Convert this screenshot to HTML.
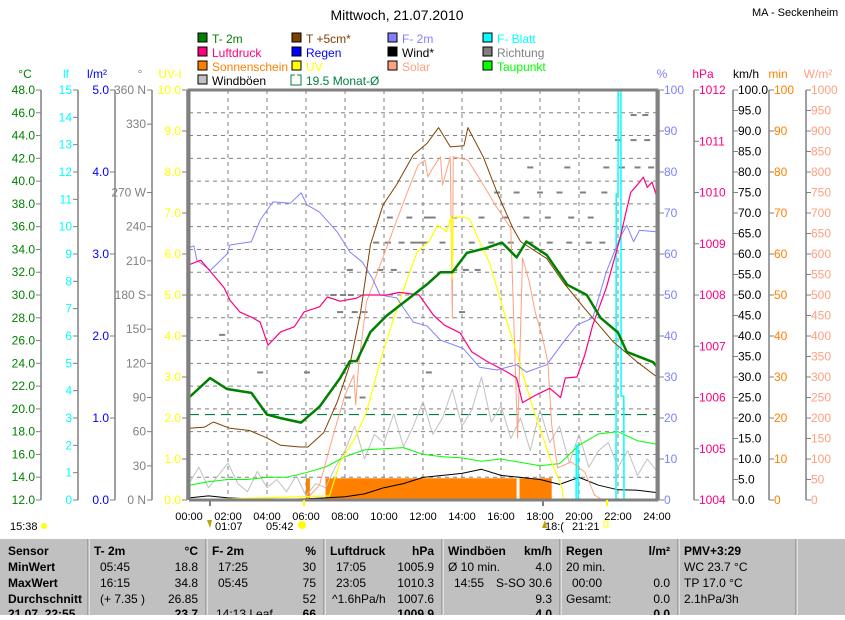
<!DOCTYPE html>
<html><head><meta charset="utf-8"><style>
body{margin:0;background:#fff;width:845px;height:615px;overflow:hidden;font-family:"Liberation Sans",sans-serif}
svg text{font-family:"Liberation Sans",sans-serif}
</style></head><body>
<svg id="c" width="845" height="615" xmlns="http://www.w3.org/2000/svg"></svg>
<script>
// ---- data (hours 0-24) ----
const t2Hour=[0,1.08,1.95,3.2,4.0,4.67,5.75,6.7,7.75,8.25,8.6,9.3,10.15,11.5,12.25,12.9,13.5,14.25,15.2,16.05,16.8,17.3,18.35,19.4,20.4,21.1,22.0,22.45,23.8,24];
const t2Val=[21.0,22.7,21.75,21.4,19.5,19.2,18.8,20.2,22.7,24.2,24.2,26.75,28.2,30.0,31.0,32.0,32.0,33.7,34.1,34.6,33.3,34.7,33.5,30.9,30.0,28.0,26.7,25.0,24.1,23.7];
const t5Hour=[0,0.8,1.25,2.1,3.1,4.0,4.7,5.7,6.1,6.9,7.6,8.25,8.8,9.3,9.95,10.65,11.5,12.2,12.8,13.4,14.1,14.3,15.1,15.8,16.6,17.0,18.35,19.2,20.2,21.75,23.0,24];
const t5Val=[18.3,18.4,18.85,18.3,18.1,17.45,16.8,16.65,16.65,17.9,20.6,23.9,28.5,34.4,37.9,39.7,42.3,43.3,44.7,43.0,43.1,44.7,42.1,39.0,35.9,34.7,33.2,31.1,29.0,25.9,24.1,22.8];
const rhHour=[0,0.25,0.4,1.1,1.95,2.1,3.2,3.65,4.3,5.2,5.75,6.05,6.7,7.6,8.25,8.9,9.4,9.8,10.65,11.5,12.2,12.9,14.05,14.9,15.8,16.8,17.3,18.35,19.2,19.9,20.7,21.4,22.1,22.45,22.8,23.1,24];
const rhVal=[61.5,62,58.5,56,60,62.2,63,68.3,72.7,72.4,74.9,72,70.2,65.4,60.5,58,54.1,50,49.3,43.4,42.5,39,37,32.4,31.7,33,31.2,33,38.5,42.7,44.4,55.6,64,67,63,65.8,65.4];
const pHour=[0,0.6,1.25,1.8,2.1,2.6,3.3,3.65,4.05,4.7,5.4,5.9,6.7,7.1,7.75,8.6,8.9,10.15,10.8,11.8,12.55,13.1,13.9,14.5,15.3,16.3,16.8,17.1,17.8,18.5,19.05,19.3,19.9,20.3,20.7,21.4,22.1,22.4,22.65,23.1,23.3,23.5,23.75,24];
const pVal=[1008.59,1008.68,1008.39,1008.14,1007.9,1007.67,1007.55,1007.47,1007.02,1007.28,1007.38,1007.67,1007.77,1007.96,1007.88,1007.94,1008.0,1008.0,1008.05,1008.0,1007.6,1007.41,1007.26,1006.89,1006.7,1006.5,1006.38,1005.9,1006.05,1006.18,1006.0,1006.38,1006.4,1006.83,1007.41,1008.14,1009.1,1009.6,1010.0,1010.2,1010.3,1010.1,1010.2,1009.9];
const solHour=[0,6.0,6.7,7.4,8.0,8.45,8.55,8.7,9.1,9.8,10.5,11.2,11.75,12.1,12.25,12.5,12.9,13.0,13.4,13.5,13.55,14.3,15.0,15.7,16.5,16.85,17.1,17.45,17.75,18.1,18.4,18.6,18.9,19.6,20.3,20.8,21.2,24];
const solVal=[0,0,37,159,256,305,232,330,483,573,663,751,817,829,788,810,837,768,837,444,837,829,776,720,663,151,590,532,459,402,337,183,78,93,68,12,0,0];
const uvHour=[0,7.2,7.75,8.5,9.1,9.8,10.5,11.2,11.7,12.3,12.75,13.2,13.45,13.5,13.55,14.1,14.4,14.9,15.4,15.9,16.4,16.8,17.1,17.6,18.1,18.6,19.1,19.2,24];
const uvVal=[0,0.1,0.93,1.5,2.15,3.37,4.44,5.4,6.05,6.3,6.7,6.55,6.9,5.4,6.9,6.9,6.85,6.3,5.8,5.0,4.2,3.6,3.1,2.3,1.6,0.9,0.35,0,0];
const sunStart=[6.0,7.0,16.95];
const sunEnd=[6.2,16.8,18.6];
const sunMin=[5.3,5.3,5.3];
const gustVal=[4,8,3,6,9,4,2,7,3,5,2,6,1,4,3,8,12,18,10,16,14,21,13,18,24,16,20,27,18,22,30,19,23,15,20,12,22,14,18,9,16,8,12,14,8,12,6,10,7];
const windVal=[0.5,1,0.5,0.3,0.2,0.2,0.3,0.5,0.8,1.5,3,4,5.5,6,6.5,7.5,6,5.5,5,3.8,5.5,3.6,2.5,2.4,1.8];
const dewVal=[13.3,13.6,13.8,13.8,14.0,14.0,14.4,14.9,15.8,16.4,16.5,16.6,16.0,15.8,15.7,15.4,15.6,15.3,15.0,15.2,16.8,17.8,18.0,17.2,16.9];
const leafHour=[0,19.85,19.86,19.95,19.96,21.9,21.91,22.0,22.01,22.15,22.16,22.3,22.31,24];
const leafVal=[0,0,2.0,2.0,0,0,11.2,11.2,15,15,3.8,3.8,0,0];
const dirHour=[1.7,3.65,6.05,7.4,7.9,8.3,8.15,8.9,7.75,8.5,9.0,8.25,9.8,10.5,9.6,10.2,10.9,11.5,12.1,10.3,11.3,12.2,12.3,13.6,14.2,14.8,14.0,11.8,13.0,14.5,15.5,16.5,17.5,18.5,19.5,20.5,21.2,12.5,13.6,15.0,16.2,17.3,18.4,19.6,20.6,15.8,16.8,18.0,19.0,20.2,21.3,17.5,19.4,21.4,22.2,23.0,23.7,22.0,22.8,23.5,22.8,23.4];
const dirDeg=[145,112,112,180,180,180,90,90,165,165,165,202,202,202,226,226,226,226,226,248,248,248,112,202,202,202,165,226,226,226,226,226,226,226,226,226,226,248,248,248,248,248,248,248,248,270,270,270,270,270,270,292,292,292,292,292,292,316,316,316,338,338];
const monthAvg=[19.5];
const cTicks=[48,46,44,42,40,38,36,34,32,30,28,26,24,22,20,18,16,14,12];
const lfTicks=[15,14,13,12,11,10,9,8,7,6,5,4,3,2,1,0];
const rainTicks=[5,4,3,2,1,0];
const dirTicks=[360,330,270,240,210,180,150,120,90,60,30,0];
const dirNames={360:" N",270:" W",180:" S",0:" N"};
const uvTicks=[10,9,8,7,6,5,4,3,2,1,0];
const pctTicks=[100,90,80,70,60,50,40,30,20,10,0];
const hpaTicks=[1012,1011,1010,1009,1008,1007,1006,1005,1004];
const kmhTicks=[100,95,90,85,80,75,70,65,60,55,50,45,40,35,30,25,20,15,10,5,0];
const minTicks=[100,90,80,70,60,50,40,30,20,10,0];
const wTicks=[1000,950,900,850,800,750,700,650,600,550,500,450,400,350,300,250,200,150,100,50,0];
const hourTicks=["00:00","02:00","04:00","06:00","08:00","10:00","12:00","14:00","16:00","18:00","20:00","22:00","24:00"];

const svg=document.getElementById('c');
const NS="http://www.w3.org/2000/svg";
const X0=189,X1=657,YT=90,YB=500;
function X(h){return X0+h*(X1-X0)/24;}
function Y(v,mn,mx){return YB-(v-mn)/(mx-mn)*(YB-YT);}
function el(t,a,parent){const e=document.createElementNS(NS,t);for(const k in a)e.setAttribute(k,a[k]);(parent||svg).appendChild(e);return e;}
function txt(x,y,s,fill,size,anchor,weight){const e=el('text',{x:x,y:y,fill:fill,'font-size':size||12,'text-anchor':anchor||'start'});if(weight)e.setAttribute('font-weight',weight);e.textContent=s;return e;}

// title
let t=txt(397,20,"Mittwoch, 21.07.2010","#000",14,"middle");

t=txt(752,16,"MA - Seckenheim","#000",11);


// legend
const legend=[
 [198,42,"#008000","T- 2m"],[292,42,"#804000","T +5cm*"],[388,42,"#8080ff","F- 2m"],[483,42,"#00ffff","F- Blatt"],
 [198,56,"#ff0080","Luftdruck"],[292,56,"#0000ff","Regen"],[388,56,"#000000","Wind*"],[483,56,"#808080","Richtung"],
 [198,70,"#ff8000","Sonnenschein"],[292,70,"#ffff00","UV"],[388,70,"#ffa080","Solar"],[483,70,"#00ff00","Taupunkt"],
 [198,84,"#c0c0c0","Windböen"],[292,84,"none","19.5 Monat-Ø"]];
const legTxt={"Windböen":"#000","19.5 Monat-Ø":"#008040","Wind*":"#000","Richtung":"#808080","UV":"#ffff00"};
legend.forEach(l=>{
 const g=el('g',{});
 
 
 if(l[2]==="none"){el('path',{d:`M${l[0]+3},${l[1]-9}h-4v10h10v-10h-4`,fill:'none',stroke:'#008040','stroke-width':1},g);}
 else el('rect',{x:l[0],y:l[1]-9,width:9,height:9,fill:l[2],stroke:'#000','stroke-width':1},g);
 const tt=el('text',{x:l[0]+14,y:l[1]+1,fill:legTxt[l[3]]||l[2],'font-size':12},g);tt.textContent=l[3];
});

// grid
for(let i=1;i<18;i++){const y=YT+i*(YB-YT)/18;const g=el('line',{x1:X0,x2:X1,y1:y,y2:y,stroke:'#808080','stroke-dasharray':'4,4','stroke-width':1});}
for(let i=1;i<12;i++){const x=X(i*2);const g=el('line',{x1:x,x2:x,y1:YT,y2:YB,stroke:'#808080','stroke-dasharray':'4,4','stroke-width':1});}

// axes
function axis(name,lineX,ticks,mn,mx,color,side,header,hx,fmt){
 const g=el('g',{});
 
 
 el('line',{x1:lineX,x2:lineX,y1:YT,y2:YB,stroke:'#808080','stroke-width':1.5},g);
 ticks.forEach(v=>{const y=Y(v,mn,mx);
  if(side==='L'){el('line',{x1:lineX-5,x2:lineX,y1:y,y2:y,stroke:'#808080'},g);
   const e=el('text',{x:lineX-6,y:y+4,fill:color,'font-size':12,'text-anchor':'end'},g);e.textContent=fmt(v);}
  else{el('line',{x1:lineX,x2:lineX+5,y1:y,y2:y,stroke:'#808080'},g);
   const e=el('text',{x:lineX+5,y:y+4,fill:color,'font-size':12},g);e.textContent=fmt(v);}
 });
 const h=el('text',{x:hx,y:78,fill:color,'font-size':12,'text-anchor':'middle'},g);h.textContent=header;
}
axis('celsius-axis',41,cTicks,12,48,'#008000','L','°C',25,v=>v.toFixed(1));
axis('leaf-axis',78,lfTicks,0,15,'#00ffff','L','lf',66,v=>String(v));
axis('rain-axis',115,rainTicks,0,5,'#0000ff','L','l/m²',97,v=>v.toFixed(1));
axis('direction-axis',152,dirTicks,0,360,'#808080','L','°',140,v=>v+(dirNames[v]||""));
axis('uv-axis',187,uvTicks,0,10,'#ffff00','L','UV-I',170,v=>v.toFixed(1));
axis('humidity-axis',659,pctTicks,0,100,'#8080ff','R','%',662,v=>String(v));
axis('pressure-axis',694,hpaTicks,1004,1012,'#ff0080','R','hPa',703,v=>String(v));
axis('wind-axis',733,kmhTicks,0,100,'#000000','R','km/h',746,v=>v.toFixed(1));
axis('sunshine-axis',769,minTicks,0,100,'#ff8000','R','min',778,v=>String(v));
axis('solar-axis',806,wTicks,0,1000,'#ffa080','R','W/m²',818,v=>String(v));

// monthly average
const mY=Y(monthAvg[0],12,48);
const ml=el('line',{x1:X0,x2:X1,y1:mY,y2:mY,stroke:'#008040','stroke-dasharray':'10,6','stroke-width':1.2});


// sunshine bars
sunStart.forEach((s,i)=>{const y=Y(sunMin[i],0,100);const r=el('rect',{x:X(s),y:y,width:X(sunEnd[i])-X(s),height:YB-y,fill:'#ff8000'});
 });

// direction dashes
dirHour.forEach((h,i)=>{const y=Y(dirDeg[i],0,360);const r=el('rect',{x:X(h)-3,y:y-1,width:6,height:2,fill:'#808080'});
 });

function line(name,hours,vals,mn,mx,color,w){
 const pts=vals.map((v,i)=>X(hours[i]).toFixed(1)+","+Y(v,mn,mx).toFixed(1)).join(" ");
 const p=el('polyline',{points:pts,fill:'none',stroke:color,'stroke-width':w||1,'stroke-linejoin':'round'});
 
}
const halfH=gustVal.map((v,i)=>i*0.5);
const fullH=windVal.map((v,i)=>i);
line('gust-line',halfH,gustVal,0,100,'#c0c0c0',1);
line('dewpoint-line',fullH,dewVal,12,48,'#00ff00',1);
line('wind-line',fullH,windVal,0,100,'#000000',1);
line('leaf-wetness-line',leafHour,leafVal,0,15,'#00ffff',1.5);
line('solar-line',solHour,solVal,0,1000,'#ffa080',1);
line('uv-line',uvHour,uvVal,0,10,'#ffff00',1.2);
line('humidity-line',rhHour,rhVal,0,100,'#8080ff',1);
line('pressure-line',pHour,pVal,1004,1012,'#ff0080',1.2);
line('temp-5cm-line',t5Hour,t5Val,12,48,'#804000',1);
line('temp-2m-line',t2Hour,t2Val,12,48,'#008000',2.5);

// frame
const fr=el('path',{d:`M${X0},${YB}V${YT}H${X1}V${YB}H${X0}`,fill:'none',stroke:'#808080','stroke-width':3});

[[210,'#808080'],[304,'#ffff00'],[543,'#808080'],[607,'#ffff00']].forEach(m=>{const e=el('line',{x1:m[0],x2:m[0],y1:YB,y2:YB+6,stroke:m[1],'stroke-width':2});});

// x labels
hourTicks.forEach((s,i)=>{const e=txt(X(i*2),520,s,"#000",11,"middle");});
[[10,530,"15:38"],[215,530,"01:07"],[266,530,"05:42"],[545,530,"18:("],[572,530,"21:21"]].forEach(a=>{const e=txt(a[0],a[1],a[2],"#000",11);});
el('circle',{cx:44,cy:526,r:3,fill:'#ffff00'});
el('circle',{cx:302,cy:525,r:4,fill:'#ffff00'});
el('path',{d:'M207,520l3,8l2,-8z',fill:'#c0a000'});
el('path',{d:'M542,528l3,-8l2,8z',fill:'#c0a000'});
el('rect',{x:604,y:521,width:4,height:6,fill:'none',stroke:'#ffff00'});

// table
const tb=el('rect',{x:0,y:538,width:845,height:77,fill:'#c0c0c0'});

el('line',{x1:0,x2:845,y1:538.5,y2:538.5,stroke:'#fff'});
[88,206,324,442,560,678,796].forEach(x=>{el('line',{x1:x,x2:x,y1:539,y2:615,stroke:'#808080'});el('line',{x1:x+1,x2:x+1,y1:539,y2:615,stroke:'#fff'});});
const rows=[555,571,587,603,618];
const cells=[
 [8,0,"Sensor","b"],[8,1,"MinWert","b"],[8,2,"MaxWert","b"],[8,3,"Durchschnitt","b"],[8,4,"21.07. 22:55","b"],
 [94,0,"T- 2m","b"],[198,0,"°C","be"],[100,1,"05:45"],[198,1,"18.8","e"],[100,2,"16:15"],[198,2,"34.8","e"],[100,3,"(+ 7.35 )"],[198,3,"26.85","e"],[198,4,"23.7","be"],
 [212,0,"F- 2m","b"],[316,0,"%","be"],[218,1,"17:25"],[316,1,"30","e"],[218,2,"05:45"],[316,2,"75","e"],[316,3,"52","e"],[216,4,"14:13 Leaf"],[316,4,"66","be"],
 [330,0,"Luftdruck","b"],[434,0,"hPa","be"],[336,1,"17:05"],[434,1,"1005.9","e"],[336,2,"23:05"],[434,2,"1010.3","e"],[332,3,"^1.6hPa/h"],[434,3,"1007.6","e"],[434,4,"1009.9","be"],
 [448,0,"Windböen","b"],[552,0,"km/h","be"],[448,1,"Ø 10 min."],[552,1,"4.0","e"],[454,2,"14:55"],[552,2,"S-SO 30.6","e"],[552,3,"9.3","e"],[552,4,"4.0","be"],
 [566,0,"Regen","b"],[670,0,"l/m²","be"],[566,1,"20 min."],[572,2,"00:00"],[670,2,"0.0","e"],[566,3,"Gesamt:"],[670,3,"0.0","e"],[670,4,"0.0","be"],
 [684,0,"PMV+3:29","b"],[684,1,"WC 23.7 °C"],[684,2,"TP 17.0 °C"],[684,3,"2.1hPa/3h"]];
cells.forEach(c=>{const st=c[3]||"";const e=txt(c[0],rows[c[1]],c[2],"#000",12,st.includes('e')?'end':'start',st.includes('b')?'bold':null);
 });
</script>
</body></html>
